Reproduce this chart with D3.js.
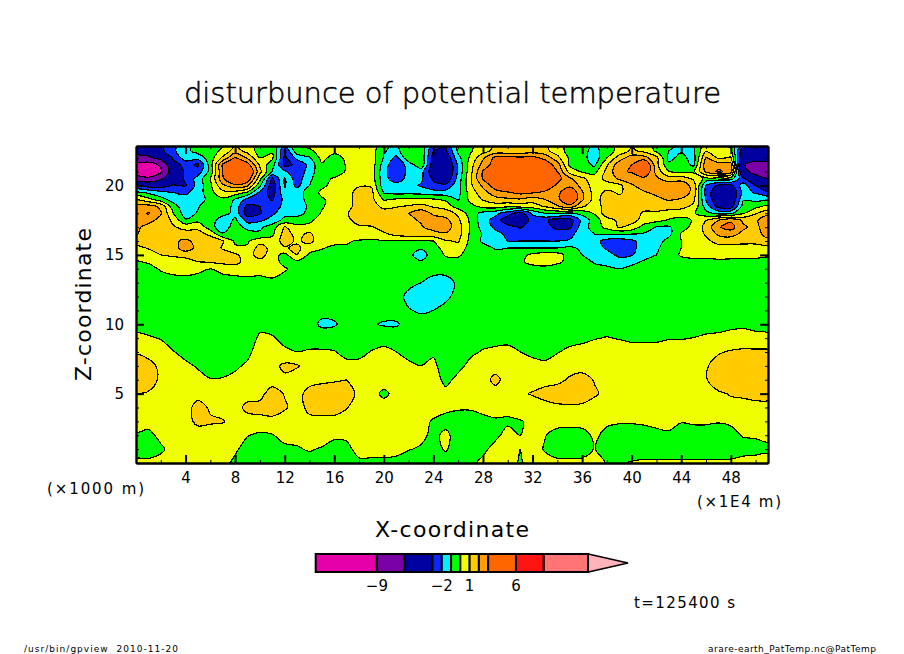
<!DOCTYPE html>
<html>
<head>
<meta charset="utf-8">
<script src="https://cdn.jsdelivr.net/npm/d3@7"></script>
<style>
body { margin: 0; background: white; }
text { font-family: "DejaVu Sans"; fill: black; }
</style>
</head>
<body>
<script>
let width = 904;
let height = 654;

// Colour boundaries of the shading, low to high
let levels = [-9, -6, -3, -2, -1, 0, 1, 2, 3, 6, 9, 14];
let levelColors = ["#e600aa", "#7a00a5", "#0000a0", "#0a28ff", "#00f0ff", "#00ff00", "#f0ff00",
    "#ffcc00", "#ff9e00", "#ff6600", "#ff1414", "#ff7575", "#ffb4bc"];
let barEnds = [-15.6, 13.8];
let barLabels = [-9, -2, 1, 6];

let xMajor = [4, 8, 12, 16, 20, 24, 28, 32, 36, 40, 44, 48];
let xMinor = [2, 6, 10, 14, 18, 22, 26, 30, 34, 38, 42, 46, 50];
let zMajor = [5, 10, 15, 20];
let zMinor = [1, 2, 3, 4, 6, 7, 8, 9, 11, 12, 13, 14, 16, 17, 18, 19, 21, 22];

// Heights of the rows below, in 1000 m, top of the plot first
let zRows = [23, 22.5, 22, 21.5, 21, 20.5, 20, 19.5, 19, 18.5, 18, 17.5, 17, 16.5, 16, 15.5, 15, 14.5,
    14, 13, 12, 11, 10, 9, 8, 7, 6, 5, 4, 3, 2, 1, 0];

// Disturbance, one column per 1E4 m
let theta = [
    [-5,-4.5,-3.4,-2.4,-1.4,-.7,-.4,-.2,.8,.2,  -.3,-.2,-2.2,.1,.4,.4,.2,.5,.6,.5,  -.8,-1.2,-.1,-.5,-2.6,-2.8,-.8,-.2,.4,1.1,  1,1.1,1.3,1.1,.4,-.4,-.6,-1.2,-.4,.2,  .9,.5,-.3,-.9,-1,-.9,.4,.2,-.5,-2.3,  -3.2,-3.6],
    [-5,-4.5,-3.3,-2.2,-1.3,-.6,-.4,.2,1.5,.6,  -.4,-.1,-3,-.3,-.2,.5,.3,.5,.6,.5,  -.9,-1.4,0,-.3,-3,-3.2,-.8,-.1,.6,1.3,  1.2,1.3,1.5,1.3,.5,-.4,-.6,-1.4,-.4,.3,  1.2,.7,-.2,-1,-1.1,-1.1,.9,.4,.3,-4,  -3.5,-3.5],
    [-7,-6.5,-5,-2.8,-1.5,-1.6,-.5,1.2,3.1,1.8,  0,.2,-3.2,-1.7,-1.1,.3,-.4,.2,.6,.6,  -1.1,-2.3,-.2,-.2,-3.5,-4,-1.3,.2,1.8,3.3,  3.4,3.2,3.3,2.7,1.3,-.2,-.6,-1.6,0,1.5,  2.5,2.4,1.3,-1.3,-.7,-1.4,2.1,.8,1.1,-4.5,  -5,-5],
    [-10,-10.5,-8.5,-3.5,-2.6,-3.2,-.5,3.2,4.5,3.5,  .8,-.6,-3.3,-2.8,-1.7,-.1,-.7,.1,.6,.6,  -1.5,-2.8,-1.6,-.2,-3.7,-4.5,-1.8,.6,2.4,3.5,  4,4,4,3.7,2.5,-.2,-.5,-1.2,.9,2.6,  3,4.5,1.3,-.8,-.5,-1.2,2.7,2.6,2.4,-5.8,  -7,-7],
    [-10.5,-11,-9.5,-4.2,-2.8,-2.6,-.6,3,5,4.5,  1.3,-1.1,-1.8,-2.9,-1.4,-.4,-.5,.1,.6,.5,  -1.7,-2.8,-1.7,-1.6,-3.8,-4.6,-1.8,.7,3.1,4.5,  5,5.2,5,4.6,3,.6,-.1,-.3,1.3,2.8,  3.1,4.2,1.6,0,-.3,-.2,2.2,3.2,2.6,-5,  -7.2,-7.5],
    [-8,-8.5,-6.5,-4,-2.8,-1.6,0,2.8,4.8,3.8,  .3,-3.2,-.9,-2.6,-1.2,-.3,.1,.5,.7,.6,  -1.7,-2.5,-1.7,-1.8,-3.2,-4,-1.6,.9,3.1,4.5,  5,5.3,5.3,4.8,3.4,2.2,1.2,.5,1.3,2.2,  2.4,2.7,2.2,1.4,1.6,.8,-.3,-.4,-.5,-2.8,  -4.5,-6],
    [-3.2,-3.5,-3.5,-2.9,-3.1,-1.6,-.2,1.8,2.7,2.2,  -.8,-3.7,-.9,-2.3,-1,-.2,.3,.5,.9,.9,  -1.6,-1.6,-1.7,-2.1,-2.7,-2.7,-1.4,.8,2.2,3.6,  4.2,4.5,4.5,3.8,2.8,2.7,1.7,.5,.6,.7,  1.9,2.4,2.5,2.7,2.7,1.6,-2.1,-3.2,-3.3,-1.5,  -3,-4],
    [-.8,-1.2,-1.7,-2,-2.2,-1.5,-.3,.7,.6,-.2,  -2.2,-3.5,-1.2,-1.4,-.6,.2,.3,.6,1.4,1.3,  -1.1,-1.3,-1.3,-1.4,-1.6,-1.6,-1.3,.5,1.6,2.6,  2.9,3.3,3.1,2.8,2.6,4.2,2.1,.6,1.2,.9,  1.3,1.9,2.2,2.6,2.6,1.7,-2.4,-3.9,-4.2,-1.7,  -2.1,-2.9],
    [1,.3,-.6,-1.4,-1.6,-1.6,-.6,-.2,-1.1,-2.3,  -2.6,-3.1,-1.7,-1.5,-.6,-.1,.3,.5,1.5,1.3,  -.1,.1,.2,.3,.1,-.2,-1.1,.3,1.1,1.6,  1.8,1.9,1.5,2,2.7,4.2,2.2,.6,1.5,1.2,  1.7,1.4,1.8,2.1,1.9,1.2,-2.1,-4,-4.2,-1.1,  -1.3,-1.3],
    [2.3,2.4,1.8,-.6,-1.6,-1.1,-.3,-.2,-1.4,-3.3,  -3,-2.6,-1.7,-1.6,-.8,-.1,.4,.5,1.6,1.5,  .7,.9,1.1,1.3,.9,.6,-.5,-.3,.3,.5,  .2,.4,.5,1.1,1.9,2.6,1.2,.3,1.6,1.7,  1.9,1.5,1.5,1.4,1.3,.8,-1.5,-3.4,-3.6,-.6,  -.3,.3],
    [2.4,3.1,2.1,0,-1.5,-.9,-.3,-.6,-1.3,-3.6,  -3.1,-2.2,-1.3,-1.4,-.7,.1,.6,.9,1.6,1.7,  1.5,1.7,2,2.7,1.8,1.5,.8,-.5,-1.3,-1.7,  -2.6,-3.5,-1.8,-1,-.9,-1.2,-.7,.1,1.6,1.6,  1.7,.8,.8,.6,.5,.1,-.7,-1.3,-1.2,-.1,  .9,1.6],
    [2.3,2.3,1.7,.8,-.9,-.3,-.4,-1.7,-.8,-2.4,  -2.2,-1.6,-.7,-.5,-.2,.4,.5,.7,1.5,1.6,  1.7,1.7,1.8,2.1,2.5,2.3,1.2,-.2,-1.6,-2.4,  -3.8,-3.9,-2.6,-2.8,-3.5,-3.5,-1.7,-.5,.6,1.2,  1.3,.7,.3,-.1,-.4,.1,1,2,2.8,1.8,  1.8,2.8],
    [2.2,1.7,1.6,1.1,.7,.8,-.6,-1.6,-.5,-1.3,  -1.2,-.5,1.1,.3,.3,.4,.4,.5,.8,.9,  1.5,1.6,1.7,1.9,2.4,2.4,1.5,-.2,-1.4,-2.2,  -2.6,-3.1,-2.5,-2.6,-3.3,-3.2,-1.5,-.5,.3,1.1,  .7,-.5,-1.05,-1.15,-.4,.3,1.3,2.9,3.4,2.2,  1.6,2.9],
    [2.1,1.5,1.4,1.5,1.4,1.3,.8,-.9,-.2,-.6,  -.8,-.2,1.4,.7,1.2,.3,.4,.6,.7,.3,  .8,1.3,1.5,1.6,1.6,1.9,1.4,-.2,-1.1,-1.7,  -2.2,-2.4,-2.3,-2.3,-2.4,-2.3,-1.5,-1,-.9,-.9,  -1,-1.1,-1.5,-1.3,.1,.5,1.1,2.2,2.4,1.7,  1.5,2.5],
    [1.5,1.6,1.7,1.8,2.2,1.7,1.5,1.1,-.2,-.1,  .6,.4,1.4,.85,1.3,.3,.4,.1,-.1,-.1,  -.05,-.1,-.1,-.1,0,.9,1.1,-.3,-1.2,-1.6,  -2,-2,-2,-2,-2,-1.9,-1.5,-1.6,-2.4,-2.5,  -2.2,-1.6,-1.5,-.6,0,.3,.8,1.3,1.4,1.3,  1.3,1.6],
    [.6,1.1,1.5,1.6,2.5,1.7,1.6,.9,.2,.1,  1.5,.6,.9,1.2,.5,.1,-.3,-.1,-.4,-.6,  -.7,-.7,-.8,-.9,-.3,.3,.6,-.4,-.6,-1.1,  -1,-1,-1,-1,-1,-.8,-1.2,-1.4,-2.2,-2.3,  -2.3,-1.5,-1.1,-.7,0,.4,.6,.7,.6,.6,  .6,.7],
    [.3,.3,1,1.2,1.4,1.4,1.4,1.4,1.2,.5,  1.5,.4,-.3,1,-.2,-.4,-.2,-.2,-.6,-.7,  -.8,-.8,-.8,-1.4,-.6,.1,.1,-.3,-.5,-.7,  -.5,-.3,.2,.5,.4,-.4,-1,-1.3,-1.5,-2.3,  -2.1,-1.3,-1,-.4,.1,.3,.4,.5,.4,.4,  .3,.1],
    [-.1,.1,.3,.4,.5,1,1.1,1.3,1.4,.5,  .6,.4,-.3,-.2,-.6,-.5,-.4,-.4,-.5,-.7,  -.7,-.6,-.6,-.9,-.5,-.3,-.2,-.4,-.3,-.4,  -.4,-.2,.4,.6,.2,-.3,-.6,-1.1,-1.3,-1.4,  -1.2,-.9,-.6,-.4,-.3,-.3,-.4,-.3,-.3,-.4,  -.3,-.3],
    [-.5,-.3,.1,.3,.3,.2,0,.3,.4,.4,  .4,.4,.1,-.3,-.6,-.6,-.6,-.6,-.6,-.6,  -.6,-.6,-.6,-.6,-.6,-.6,-.5,-.5,-.5,-.5,  -.5,-.5,-.5,-.4,-.5,-.5,-.6,-.7,-.8,-1,  -.8,-.7,-.6,-.5,-.5,-.5,-.5,-.5,-.5,-.5,  -.5,-.5],
    [-.6,-.6,-.5,-.4,-.3,-.4,-.4,-.5,-.4,-.3,  -.4,-.2,-.4,-.5,-.6,-.6,-.6,-.6,-.6,-.6,  -.6,-.7,-.8,-1,-1.4,-1.4,-.8,-.6,-.6,-.6,  -.6,-.6,-.6,-.6,-.6,-.6,-.6,-.6,-.6,-.6,  -.6,-.6,-.6,-.6,-.6,-.6,-.6,-.6,-.6,-.6,  -.6,-.6],
    [-.6,-.6,-.6,-.6,-.6,-.6,-.6,-.6,-.6,-.6,  -.6,-.6,-.6,-.6,-.6,-.6,-.6,-.6,-.6,-.6,  -.6,-.7,-1.2,-1.6,-1.7,-1.2,-.7,-.6,-.6,-.6,  -.6,-.6,-.6,-.6,-.6,-.6,-.6,-.6,-.6,-.6,  -.6,-.6,-.6,-.6,-.6,-.6,-.6,-.6,-.6,-.6,  -.6,-.6],
    [-.6,-.6,-.6,-.6,-.6,-.6,-.6,-.6,-.6,-.6,  -.6,-.6,-.6,-.6,-.6,-.7,-.7,-.6,-.6,-.6,  -.6,-.6,-.95,-1.1,-1,-.7,-.6,-.6,-.6,-.6,  -.6,-.6,-.6,-.6,-.6,-.6,-.6,-.6,-.6,-.6,  -.6,-.6,-.6,-.6,-.6,-.6,-.6,-.6,-.6,-.6,  -.6,-.6],
    [-.3,-.4,-.5,-.6,-.7,-.7,-.7,-.7,-.7,-.6,  -.3,-.4,-.6,-.6,-.6,-1.2,-1.1,-.7,-.7,-.9,  -1.1,-1.1,-.7,-.7,-.6,-.7,-.7,-.6,-.6,-.5,  -.5,-.6,-.6,-.6,-.6,-.5,-.5,-.55,-.45,-.55,  -.6,-.6,-.6,-.55,-.55,-.5,-.35,-.3,-.2,-.15,  -.25,-.3],
    [.2,.1,-.05,-.45,-.6,-.7,-.7,-.7,-.7,-.6,  .2,.1,-.3,-.5,-.4,-.4,-.45,-.6,-.6,-.45,  -.3,-.5,-.6,-.7,-.6,-.7,-.7,-.6,-.4,-.3,  -.25,-.5,-.6,-.7,-.55,-.3,-.2,-.05,.05,-.05,  -.15,-.15,-.15,-.05,-.05,.02,.15,.2,.3,.35,  .25,.2],
    [.9,.7,.45,.05,-.3,-.6,-.7,-.7,-.6,-.3,  .6,.6,.2,.01,.1,.1,.05,-.25,-.25,.05,  .2,.01,-.3,-.5,-.2,-.9,-.7,-.2,.1,.2,  .25,.01,-.2,-.3,-.05,.2,.3,.45,.55,.45,  .35,.35,.35,.45,.45,.5,.7,.9,1.1,1.2,  1.2,1.2],
    [1.5,1.3,.8,.55,.2,-.1,-.45,-.5,-.2,.2,  .7,.7,1.2,1.1,.6,.6,.5,.25,.25,.5,  .6,.5,.2,.01,.3,-.7,-.3,.3,.6,.7,  .75,.5,.3,.2,.45,.7,.7,.7,.8,.7,  .7,.7,.7,.7,.8,.8,.9,1.4,1.6,1.7,  1.7,1.7],
    [1.6,1.5,.8,.7,.6,.3,.05,.1,.3,.5,  .7,.7,.8,.4,.7,.8,.9,1,.9,.7,  .7,.7,.6,.5,.5,-.3,.3,.6,.7,1.2,  .7,.7,.7,.8,.8,1.1,1.3,.95,.7,.7,  .7,.7,.7,.7,.7,.8,.95,1.4,1.6,1.7,  1.7,1.7],
    [1,.9,.7,.7,.7,.7,.7,.7,.7,.7,  .8,1.3,.95,.7,1.3,1.5,1.5,1.2,.9,.5,  -.3,.4,.6,.6,.6,.3,.6,.7,.7,.7,  .7,.9,1.05,1.2,1.4,1.5,1.5,1.1,.8,.7,  .7,.7,.7,.7,.7,.7,.7,.9,1.05,1.1,  1.2,1.2],
    [.7,.7,.7,.7,.7,1.3,.9,.7,.7,1.2,  1.2,1.5,1.1,.7,1.2,1.4,1.4,1.05,.6,.6,  .6,.6,.6,.7,.4,.2,.1,.1,.2,.3,  .3,.9,.7,.8,.85,.85,.8,.7,.6,.6,  .6,.6,.6,.6,.7,.7,.7,.7,.8,.8,  .8,.8],
    [.4,.4,.6,.6,.7,1.2,1.1,1.05,.7,.7,  .8,.7,.6,.7,.8,.7,.7,.6,.6,.6,  .6,.6,.5,.3,-.1,-.3,-.4,-.4,-.2,-.1,  -.15,-.1,.3,.4,.4,.4,.4,.4,.2,.1,  .1,.15,.2,.2,.05,.1,.1,.05,.1,.2,  .3,.3],
    [-.1,-.3,.3,.5,.6,.6,.6,.6,.5,.05,  -.2,-.05,.3,.3,.6,.5,.2,.3,.7,.7,  .7,.7,.6,.2,-.2,.2,-.4,-.5,-.5,-.2,  .3,0,.4,.05,-.4,-.5,-.4,.2,-.3,-.5,  -.5,-.4,-.2,-.1,-.4,-.3,-.3,-.4,-.2,.05,  .1,.2],
    [-.6,-.6,-.2,.4,.5,.5,.5,.5,.2,-.5,  -.6,-.5,-.2,-.1,.1,-.1,-.4,-.4,.5,.5,  .5,.4,.05,-.1,-.3,.1,-.5,-.5,-.2,.3,  .5,0,.5,-.1,-.6,-.6,-.5,.05,-.5,-.6,  -.6,-.6,-.6,-.6,-.6,-.6,-.6,-.6,-.5,-.3,  -.3,-.2],
    [.3,.3,.4,.5,.5,.5,.5,.4,-.3,-.5,  -.5,-.5,-.5,-.5,-.5,-.5,-.5,-.5,-.3,-.3,  -.3,-.4,-.5,-.4,-.5,-.5,-.3,-.2,.2,.6,  .6,-.2,.6,.4,.3,.3,.3,.5,-.1,-.2,  .1,.2,.2,.2,.2,.2,.2,.2,.2,.3,  .4,.4],
];

let svg = d3.select("body").append("svg")
    .attr("width", width)
    .attr("height", height)
    .style("display", "block");

let left = 136, right = 768, top_ = 146, bottom = 463;
let x = d3.scaleLinear().domain([0, 51]).range([left, right]);
let z = d3.scaleLinear().domain([0, 22.85]).range([bottom, top_]);
let rowToZ = d3.scaleLinear().domain(d3.range(zRows.length)).range(zRows);

svg.append("clipPath").attr("id", "plot")
    .append("rect")
    .attr("x", left).attr("y", top_)
    .attr("width", right - left).attr("height", bottom - top_);

// Contours come back in grid cells, samples sit at the cell centres
let toPage = p => [x(p[0] - 0.5), z(rowToZ(p[1] - 0.5))];
let ringLine = d3.line().curve(d3.curveCatmullRomClosed.alpha(0.5));
let contourPath = d => d.coordinates
    .flatMap(polygon => polygon.map(ring => ringLine(ring.slice(0, -1).map(toPage))))
    .join("");

let contours = d3.contours()
    .size([theta[0].length, theta.length])
    .thresholds(levels)(theta.flat());

let g = svg.append("g").attr("clip-path", "url(#plot)");

g.append("rect")
    .attr("x", left).attr("y", top_)
    .attr("width", right - left).attr("height", bottom - top_)
    .style("fill", levelColors[0]);

g.selectAll("path")
    .data(contours)
    .enter()
    .append("path")
    .attr("d", contourPath)
    .style("fill", (d, i) => levelColors[i + 1])
    .style("stroke", "black")
    .style("stroke-width", 1.2)
    .style("shape-rendering", "crispEdges");

// Frame, long ticks with labels on bottom and left, short ticks all around
function frameAxis(axis, scale, major, minor, translate, labels, pad) {
    let a = svg.append("g").attr("transform", translate);
    a.call(axis(scale).tickValues(minor).tickSize(-3).tickFormat(""));
    a.selectAll(".tick line").style("stroke-width", 1);
    let b = svg.append("g").attr("transform", translate);
    b.call(axis(scale).tickValues(major).tickSizeInner(-8).tickSizeOuter(0).tickPadding(pad)
        .tickFormat(labels ? d3.format("d") : ""));
    b.selectAll(".tick line").style("stroke-width", 2);
    b.select(".domain").style("stroke-width", 2.4);
    b.selectAll("text").style("font-family", "DejaVu Sans").style("font-size", "15px");
}
frameAxis(d3.axisBottom, x, xMajor, xMinor, `translate(0,${bottom})`, true, 9);
frameAxis(d3.axisTop, x, xMajor, xMinor, `translate(0,${top_})`, false, 3);
frameAxis(d3.axisLeft, z, zMajor, zMinor, `translate(${left},0)`, true, 12);
frameAxis(d3.axisRight, z, zMajor, zMinor, `translate(${right},0)`, false, 3);

function label(s, px, py, size, fit) {
    let t = svg.append("text")
        .attr("x", px).attr("y", py)
        .style("font-size", size + "px")
        .text(s);
    if (fit) t.attr("textLength", fit).attr("lengthAdjust", "spacing");
    return t;
}

label("disturbunce of potential temperature", 184, 103, 29, 537)
    .style("font-weight", 200).style("stroke", "black").style("stroke-width", 0.5);
label("X-coordinate", 375, 537, 22, 154);
label("Z-coordinate", 0, 0, 22, 153)
    .attr("transform", "translate(91,381) rotate(-90)");
label("(\u00d71000 m)", 47, 494, 15, 97);
label("(\u00d71E4 m)", 697, 507, 15, 84);
label("t=125400 s", 634, 608, 15, 101);
label("/usr/bin/gpview  2010-11-20", 24, 652, 9, 154).style("white-space", "pre");
label("arare-earth_PatTemp.nc@PatTemp", 708, 652, 9, 168);

// Colour bar
let bar = d3.scaleLinear().domain(barEnds).range([315.7, 588.3]);
let barEdges = [barEnds[0]].concat(levels.slice(0, -1), [barEnds[1]]);
let barTop = 554, barBottom = 572;

svg.append("g").selectAll("rect")
    .data(d3.pairs(barEdges))
    .enter()
    .append("rect")
    .attr("x", d => bar(d[0]))
    .attr("y", barTop)
    .attr("width", d => bar(d[1]) - bar(d[0]))
    .attr("height", barBottom - barTop)
    .style("fill", (d, i) => levelColors[i])
    .style("stroke", "black")
    .style("stroke-width", 2);

svg.append("path")
    .attr("d", d3.line()([[bar(barEnds[1]), barTop], [628, (barTop + barBottom) / 2], [bar(barEnds[1]), barBottom]]) + "Z")
    .style("fill", levelColors[levelColors.length - 1])
    .style("stroke", "black")
    .style("stroke-width", 1.5);

svg.append("g").selectAll("text")
    .data(barLabels)
    .enter()
    .append("text")
    .attr("x", d => bar(d))
    .attr("y", 591)
    .attr("text-anchor", "middle")
    .style("font-size", "15px")
    .text(d => d3.format("d")(d));
</script>
</body>
</html>
